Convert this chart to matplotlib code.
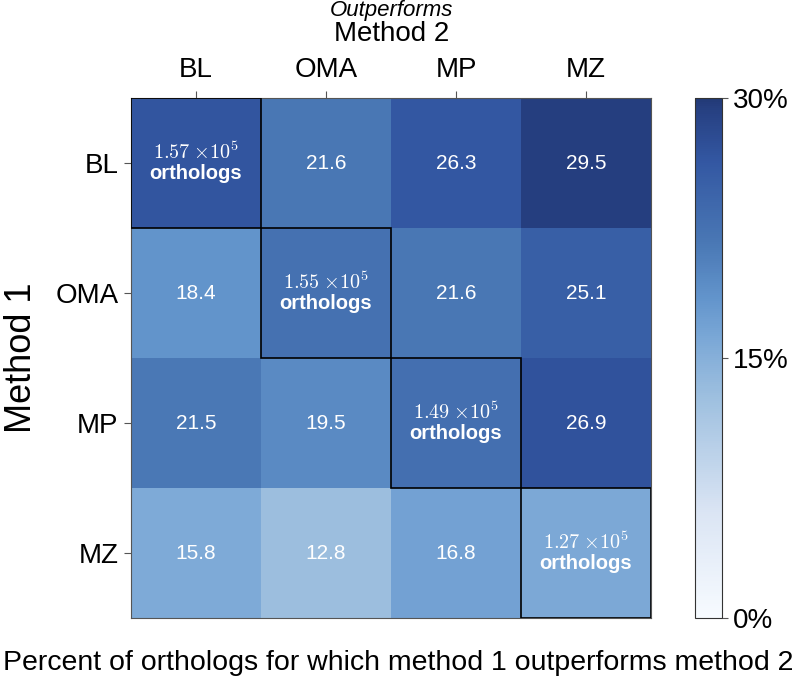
import matplotlib
matplotlib.use("Agg")
import matplotlib.pyplot as plt
import numpy as np
from matplotlib.colors import LinearSegmentedColormap
from matplotlib.patches import Rectangle

plt.rcParams['font.family'] = ['Liberation Sans', 'DejaVu Sans']
plt.rcParams['mathtext.fontset'] = 'cm'

methods = ["BL", "OMA", "MP", "MZ"]
# percent of orthologs where row method outperforms column method (diagonal: NaN)
values = [
    [np.nan, 21.6, 26.3, 29.5],
    [18.4, np.nan, 21.6, 25.1],
    [21.5, 19.5, np.nan, 26.9],
    [15.8, 12.8, 16.8, np.nan],
]
# colour level of the diagonal cells (estimated)
diag_color = [26.5, 22.6, 22.8, 16.0]
diag_counts = ["1.57", "1.55", "1.49", "1.27"]
cbar_ticks = [0, 15, 30]
cbar_ticklabels = ["0%", "15%", "30%"]

cmap = LinearSegmentedColormap.from_list("custom_blues", [
    (0.0, "#f7fbff"),
    (0.2, "#dbe5f4"),
    (0.427, "#9dbfdf"),
    (0.54, "#7aa7d6"),
    (0.613, "#6395cc"),
    (0.72, "#4a78b5"),
    (0.88, "#3357a2"),
    (0.983, "#263f80"),
    (1.0, "#223a76"),
])

data = np.array(values, dtype=float)
for i in range(4):
    data[i, i] = diag_color[i]

fig = plt.figure(figsize=(7.97, 6.81), dpi=100)
ax = fig.add_axes([0.1644, 0.0925, 0.6524, 0.7635])
cax = fig.add_axes([0.872, 0.0925, 0.034, 0.7635])

im = ax.imshow(data, cmap=cmap, vmin=0, vmax=30, aspect='auto',
               extent=(-0.5, 3.5, 3.5, -0.5))

for i in range(4):
    for j in range(4):
        if i == j:
            ax.text(j, i - 0.085, r"$%s\;{\times}10^5$" % diag_counts[i], ha='center',
                    va='center', color='white', fontsize=14.5)
            ax.text(j, i + 0.08, "orthologs", ha='center', va='center',
                    color='white', fontsize=14.5, fontweight='bold')
            ax.add_patch(Rectangle((j - 0.5, i - 0.5), 1, 1, fill=False,
                                   edgecolor='black', linewidth=1.2, zorder=3))
        else:
            ax.text(j, i, "%.1f" % values[i][j], ha='center', va='center',
                    color='white', fontsize=15)

ax.set_xticks(range(4))
ax.set_yticks(range(4))
ax.set_xticklabels(methods, fontsize=20)
ax.set_yticklabels(methods, fontsize=20)
ax.xaxis.tick_top()
ax.tick_params(length=5, color='#555555', pad=6)
ax.tick_params(axis='y', pad=4)
for s in ax.spines.values():
    s.set_color('#555555')
    s.set_linewidth(0.8)

ax.set_ylabel("Method 1", fontsize=26, labelpad=12)
fig.text(0.491, 0.950, "Method 2", ha='center', va='center', fontsize=20)
fig.text(0.491, 0.984, "Outperforms", ha='center', va='center', fontsize=16,
         style='italic')
fig.text(0.5, 0.027, "Percent of orthologs for which method 1 outperforms method 2",
         ha='center', va='center', fontsize=20.5)

cb = fig.colorbar(im, cax=cax, ticks=cbar_ticks)
cb.ax.set_yticklabels(cbar_ticklabels, fontsize=20)
cb.ax.tick_params(length=4, color='#555555')
cb.outline.set_edgecolor('#333333')
cb.outline.set_linewidth(0.8)

fig.savefig("out.png", dpi=100)
